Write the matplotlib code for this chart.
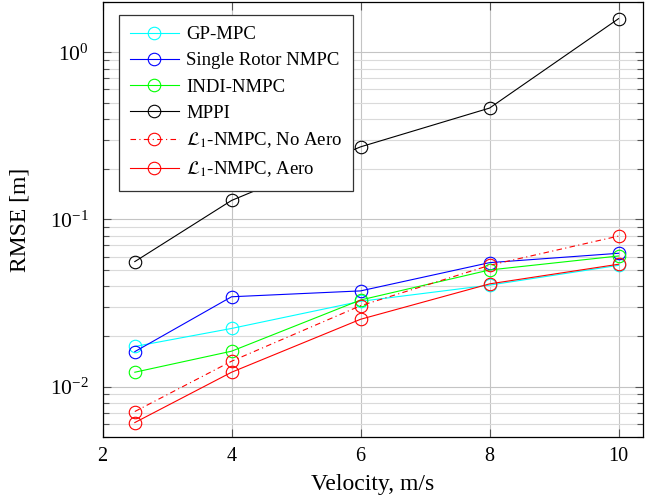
import matplotlib.pyplot as plt
from matplotlib.ticker import LogLocator, NullFormatter

plt.rcParams['font.family'] = ['Liberation Serif', 'DejaVu Serif']
plt.rcParams['mathtext.fontset'] = 'stix'

velocity = [2.5, 4, 6, 8, 10]

gp_mpc = [0.0174, 0.0223, 0.0324, 0.0405, 0.0532]
single_rotor = [0.0162, 0.0345, 0.0374, 0.0552, 0.0628]
indi_nmpc = [0.0122, 0.0163, 0.0330, 0.0499, 0.0605]
mppi = [0.056, 0.130, 0.272, 0.464, 1.59]
l1_no_aero = [0.0071, 0.0142, 0.0305, 0.0532, 0.0796]
l1_aero = [0.0061, 0.0122, 0.0253, 0.0412, 0.0540]

labels = ['GP-MPC', 'Single Rotor NMPC', 'INDI-NMPC', 'MPPI',
          r'$\mathcal{L}_1$-NMPC, No Aero', r'$\mathcal{L}_1$-NMPC, Aero']

fig = plt.figure(figsize=(6.45, 5), dpi=100)
ax = fig.add_axes([0.159, 0.126, 0.838, 0.870])

style = dict(marker='o', mfc='none', ms=9, mew=0.8, lw=0.8)
ax.plot(velocity, gp_mpc, color='cyan', label=labels[0], **style)
ax.plot(velocity, single_rotor, color='blue', label=labels[1], **style)
ax.plot(velocity, indi_nmpc, color='lime', label=labels[2], **style)
ax.plot(velocity, mppi, color='black', label=labels[3], **style)
ax.plot(velocity, l1_no_aero, color='red', label=labels[4],
        dashes=(5, 3, 1, 3), **style)
ax.plot(velocity, l1_aero, color='red', label=labels[5], **style)

ax.set_yscale('log')
ax.set_xlim(2, 10.38)
ax.set_ylim(0.005, 2.0)
ax.set_xticks([2, 4, 6, 8, 10])
ax.yaxis.set_major_locator(LogLocator(base=10, numticks=10))
ax.yaxis.set_minor_locator(LogLocator(base=10, subs=range(2, 10), numticks=20))
ax.yaxis.set_minor_formatter(NullFormatter())

ax.grid(True, which='major', color='#c4c4c4', lw=0.8)
ax.grid(True, which='minor', axis='y', color='#dadada', lw=0.8)
ax.set_axisbelow(True)

ax.tick_params(which='both', direction='in', top=True, right=True,
               color='#555555', labelsize=14.5)
ax.tick_params(axis='y', labelsize=15.5)
ax.tick_params(which='major', length=6, width=0.8)
ax.tick_params(which='minor', length=4, width=0.8)
ax.tick_params(axis='x', pad=7)
ax.tick_params(axis='y', pad=10)
for s in ax.spines.values():
    s.set_linewidth(0.9)

ax.set_xlabel('Velocity, m/s', fontsize=17, labelpad=6)
ax.set_ylabel('RMSE [m]', fontsize=17, labelpad=14)

leg = ax.legend(loc='upper left', bbox_to_anchor=(0.023, 0.979), fontsize=13.5,
                handlelength=2.6, handletextpad=0.4, labelspacing=0.48,
                borderpad=0.6, borderaxespad=0.2, fancybox=False, framealpha=1)
leg.get_frame().set_edgecolor('#333333')
leg.get_frame().set_linewidth(0.9)

fig.savefig('out.png', dpi=100)
